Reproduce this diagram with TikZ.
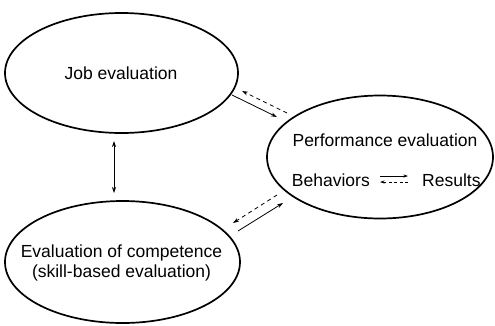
\documentclass[tikz,border=0pt]{standalone}
\usepackage{fontspec}
\setmainfont{Liberation Sans}
\usetikzlibrary{shapes.geometric,arrows.meta}
\begin{document}
\begin{tikzpicture}[x=1pt,y=-1pt,
  oval/.style={draw,ellipse,line width=1.7pt,inner sep=0pt},
  lbl/.style={inner sep=0pt,font=\fontsize{17.5}{20}\selectfont,align=center},
  solidarr/.style={line width=0.8pt,-{Stealth[length=6pt,width=4pt]}},
  dasharr/.style={line width=0.8pt,dash pattern=on 4pt off 3.5pt,-{Stealth[length=6pt,width=4pt]}},
  smallarr/.style={line width=0.7pt,-{Stealth[length=4.5pt,width=3pt]}},
  smalldash/.style={line width=0.7pt,dash pattern=on 3pt off 2.5pt,-{Stealth[length=4.5pt,width=3pt]}},
  bothArr/.style={line width=0.8pt,{Stealth[length=6pt,width=4pt]}-{Stealth[length=6pt,width=4pt]}}]
\useasboundingbox (0,0) rectangle (495,325);
\node[oval,minimum width=233pt,minimum height=120pt] (job) at (121.5,73) {};
\node[oval,minimum width=235pt,minimum height=122pt] (comp) at (122.5,262) {};
\node[oval,minimum width=226pt,minimum height=123pt] (perf) at (380,157) {};
\node[lbl] (jobt) at (121,73) {Job evaluation};
\node[lbl] (compt) at (121.5,263) {Evaluation of competence\\(skill-based evaluation)};
\node[lbl] (perft) at (385,140) {Performance evaluation};
\node[lbl,anchor=east] (beh) at (370,180) {Behaviors};
\node[lbl,anchor=west] (res) at (422,180) {Results};
% free ends of connectors
\coordinate (a1) at (232,95);  \coordinate (a2) at (277,117);
\coordinate (b1) at (287,113); \coordinate (b2) at (242,91);
\coordinate (c1) at (238,231); \coordinate (c2) at (283,203);
\coordinate (d1) at (277,195); \coordinate (d2) at (233,223);
\coordinate (v1) at (114,141); \coordinate (v2) at (114,193);
\coordinate (e1) at (380,176); \coordinate (e2) at (408,176);
\coordinate (f1) at (408,182); \coordinate (f2) at (380,182);
\draw[solidarr] (a1) -- (a2);
\draw[dasharr] (b1) -- (b2);
\draw[solidarr] (c1) -- (c2);
\draw[dasharr] (d1) -- (d2);
\draw[bothArr] (v1) -- (v2);
\draw[smallarr] (e1) -- (e2);
\draw[smalldash] (f1) -- (f2);
\end{tikzpicture}
\end{document}
